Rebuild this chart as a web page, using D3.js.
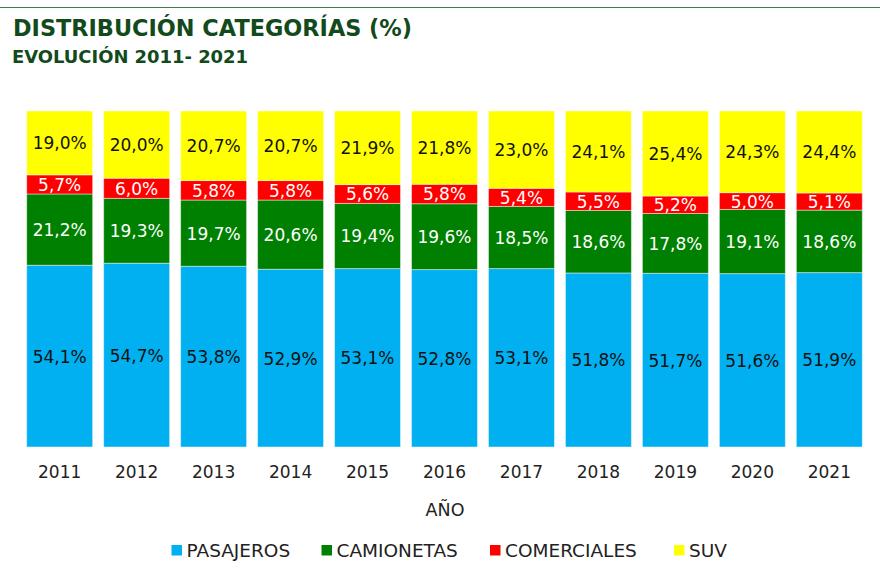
<!DOCTYPE html>
<html>
<head>
<meta charset="utf-8">
<script src="https://cdn.jsdelivr.net/npm/d3@7"></script>
<style>
  html, body { margin: 0; padding: 0; background: #fff; }
  svg { display: block; }
</style>
</head>
<body>
<svg id="chart" width="880" height="586"></svg>
<script>
// Vehicle category share (%) per year
const years = ["2011","2012","2013","2014","2015","2016","2017","2018","2019","2020","2021"];
const pasajeros   = [54.1, 54.7, 53.8, 52.9, 53.1, 52.8, 53.1, 51.8, 51.7, 51.6, 51.9];
const camionetas  = [21.2, 19.3, 19.7, 20.6, 19.4, 19.6, 18.5, 18.6, 17.8, 19.1, 18.6];
const comerciales = [5.7, 6.0, 5.8, 5.8, 5.6, 5.8, 5.4, 5.5, 5.2, 5.0, 5.1];
const suv         = [19.0, 20.0, 20.7, 20.7, 21.9, 21.8, 23.0, 24.1, 25.4, 24.3, 24.4];
const seriesNames = ["PASAJEROS", "CAMIONETAS", "COMERCIALES", "SUV"];

const colors = ["#00B0F0", "#008000", "#FF0000", "#FFFF00"];
const labelColors = ["#111", "#fff", "#fff", "#111"];
const FONT = "'DejaVu Sans', sans-serif";

const svg = d3.select("#chart");

// top rule
svg.append("line")
  .attr("x1", 0).attr("x2", 880).attr("y1", 7.5).attr("y2", 7.5)
  .attr("stroke", "#3d7f3f").attr("stroke-width", 1.2);

// titles
svg.append("text")
  .attr("x", 13).attr("y", 36)
  .attr("font-family", FONT).attr("font-weight", "bold")
  .attr("font-size", 23.5).attr("fill", "#124a1c")
  .attr("textLength", 399).attr("lengthAdjust", "spacingAndGlyphs")
  .text("DISTRIBUCIÓN CATEGORÍAS (%)");
svg.append("text")
  .attr("x", 12).attr("y", 63)
  .attr("font-family", FONT).attr("font-weight", "bold")
  .attr("font-size", 18.5).attr("fill", "#124a1c")
  .attr("textLength", 236).attr("lengthAdjust", "spacingAndGlyphs")
  .text("EVOLUCIÓN 2011- 2021");

const table = years.map((y, i) => ({
  year: y,
  PASAJEROS: pasajeros[i],
  CAMIONETAS: camionetas[i],
  COMERCIALES: comerciales[i],
  SUV: suv[i]
}));

const x = d3.scaleBand().domain(years).range([19, 870]).paddingInner(0.143).paddingOuter(0.1);
const y = d3.scaleLinear().domain([0, 100]).range([447, 111]);

const stack = d3.stack().keys(seriesNames);
const layers = stack(table);

const g = svg.append("g");
layers.forEach((layer, li) => {
  const lg = g.append("g");
  lg.selectAll("rect").data(layer).join("rect")
    .attr("x", d => x(d.data.year))
    .attr("width", x.bandwidth())
    .attr("y", d => y(Math.min(100, d[1])))
    .attr("height", d => y(d[0]) - y(Math.min(100, d[1])))
    .attr("fill", colors[li])
    .attr("stroke", "#ffffff").attr("stroke-opacity", 0.45).attr("stroke-width", 1);
});
layers.forEach((layer, li) => {
  g.append("g").selectAll("text").data(layer).join("text")
    .attr("x", d => x(d.data.year) + x.bandwidth() / 2)
    .attr("y", d => (y(d[0]) + y(Math.min(100, d[1]))) / 2)
    .attr("dy", "0.38em")
    .attr("text-anchor", "middle")
    .attr("font-family", FONT).attr("font-size", 17)
    .attr("fill", labelColors[li])
    .text(d => d.data[seriesNames[li]].toFixed(1).replace(".", ",") + "%");
});

// x axis (labels only)
const xAxis = svg.append("g")
  .attr("transform", "translate(0,447)")
  .call(d3.axisBottom(x).tickSize(0).tickPadding(19));
xAxis.select(".domain").remove();
xAxis.selectAll("text")
  .attr("font-family", FONT).attr("font-size", 17).attr("fill", "#222");

svg.append("text")
  .attr("x", (x.range()[0] + x.range()[1]) / 2 + 0.5).attr("y", 516)
  .attr("text-anchor", "middle")
  .attr("font-family", FONT).attr("font-size", 17.5).attr("fill", "#222")
  .text("AÑO");

// legend
const legendX = [171.5, 321.5, 490, 674];
const legend = svg.append("g");
seriesNames.forEach((name, i) => {
  legend.append("rect")
    .attr("x", legendX[i]).attr("y", 545)
    .attr("width", 10.5).attr("height", 10.5)
    .attr("fill", colors[i]);
  legend.append("text")
    .attr("x", legendX[i] + 15).attr("y", 556.5)
    .attr("font-family", FONT).attr("font-size", 18.5).attr("fill", "#222")
    .text(name);
});
</script>
</body>
</html>
